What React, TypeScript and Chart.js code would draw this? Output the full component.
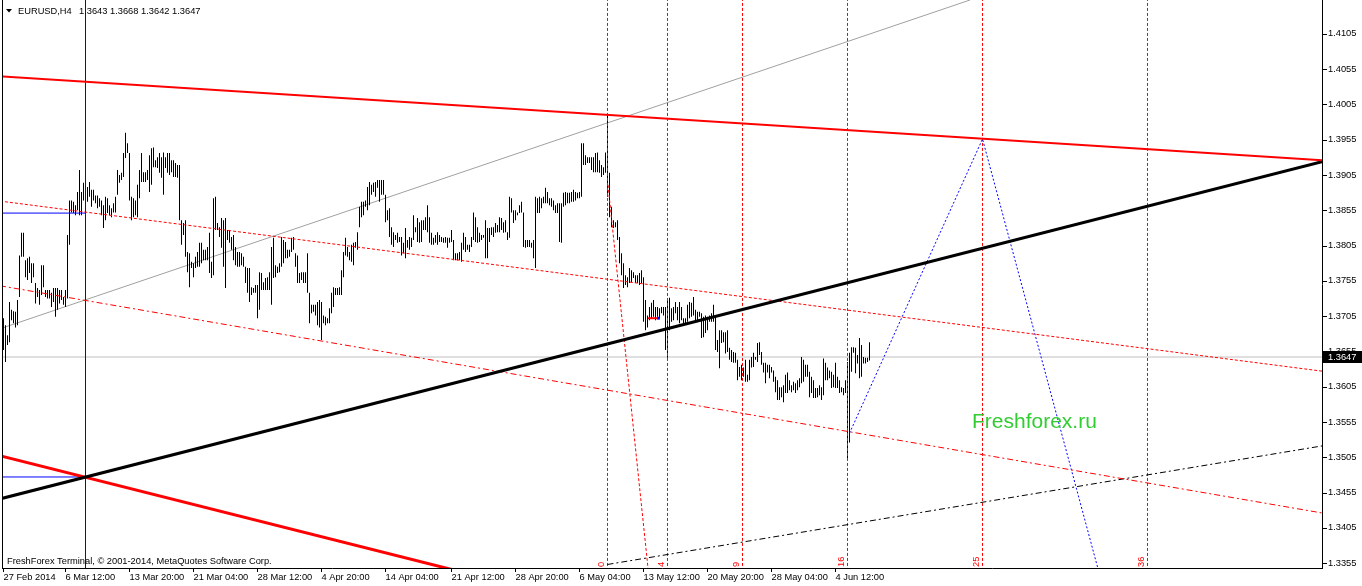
import React, { useEffect, useRef } from 'react';
import { Chart, registerables } from 'chart.js';

Chart.register(...registerables);

// ---- OHLC data (H4 bars, high / low) ----
const BAR_HIGH: number[] = [
  1.3702,1.3692,1.3678,1.3725,1.3714,1.3712,1.3711,1.3728,1.3791,1.3823,
  1.3823,1.3784,1.3787,1.3789,1.3780,1.3780,1.3752,1.3745,1.3742,1.3777,
  1.3777,1.3742,1.3742,1.3742,1.3738,1.3745,1.3745,1.3745,1.3742,1.3742,
  1.3732,1.3742,1.3820,1.3869,1.3869,1.3867,1.3862,1.3881,1.3912,1.3881,
  1.3894,1.3884,1.3888,1.3895,1.3884,1.3884,1.3876,1.3876,1.3872,1.3869,
  1.3862,1.3874,1.3872,1.3862,1.3858,1.3865,1.3874,1.3912,1.3905,1.3908,
  1.3936,1.3965,1.3950,1.3936,1.3874,1.3872,1.3869,1.3891,1.3912,1.3936,
  1.3909,1.3909,1.3912,1.3933,1.3943,1.3944,1.3926,1.3930,1.3936,1.3930,
  1.3937,1.3930,1.3936,1.3936,1.3926,1.3926,1.3922,1.3919,1.3919,1.3841,
  1.3837,1.3841,1.3796,1.3794,1.3782,1.3780,1.3789,1.3796,1.3809,
  1.3809,1.3799,1.3799,1.3803,1.3823,1.3782,1.3872,1.3874,1.3837,1.3831,
  1.3844,1.3841,1.3844,1.3827,1.3827,1.3817,1.3820,1.3803,1.3796,1.3796,
  1.3794,1.3789,1.3775,1.3773,1.3773,1.3746,1.3745,1.3749,1.3749,1.3767,
  1.3766,1.3753,1.3759,1.3760,1.3767,1.3803,1.3816,1.3777,1.3775,1.3780,
  1.3817,1.3813,1.3810,1.3799,1.3799,1.3816,1.3817,1.3794,1.3791,1.3766,
  1.3767,1.3767,1.3767,1.3794,1.3738,1.3721,1.3721,1.3721,1.3725,1.3728,
  1.3725,1.3706,1.3704,1.3702,1.3716,1.3738,1.3746,1.3745,1.3745,1.3746,
  1.3770,1.3796,1.3816,1.3803,1.3796,1.3806,1.3809,1.3810,1.3824,1.3860,
  1.3867,1.3867,1.3869,1.3888,1.3895,1.3891,1.3894,1.3895,1.3898,1.3898,
  1.3898,1.3898,1.3877,1.3855,1.3858,1.3831,1.3824,1.3820,1.3823,1.3817,
  1.3817,1.3809,1.3830,1.3813,1.3817,1.3816,1.3848,1.3831,1.3844,1.3838,
  1.3841,1.3841,1.3845,1.3862,1.3845,1.3823,1.3816,1.3820,1.3824,1.3820,
  1.3817,1.3816,1.3817,1.3816,1.3816,1.3827,1.3813,1.3794,1.3794,1.3796,
  1.3809,1.3823,1.3817,1.3806,1.3806,1.3817,1.3852,1.3845,1.3831,1.3823,
  1.3820,1.3820,1.3841,1.3830,1.3830,1.3831,1.3831,1.3837,1.3834,1.3845,
  1.3844,1.3838,1.3841,1.3824,1.3874,1.3872,1.3855,1.3855,1.3852,1.3862,
  1.3867,1.3852,1.3813,1.3813,1.3813,1.3809,1.3813,1.3874,1.3872,1.3874,
  1.3872,1.3874,1.3887,1.3881,1.3872,1.3872,1.3869,1.3862,1.3865,1.3865,
  1.3865,1.3880,1.3881,1.3880,1.3880,1.3881,1.3884,1.3881,1.3880,1.3881,
  1.3950,1.3950,1.3933,1.3930,1.3930,1.3930,1.3930,1.3936,1.3937,1.3926,
  1.3919,1.3916,1.3937,1.3993,1.3908,1.3860,1.3841,1.3838,1.3841,1.3817,
  1.3794,1.3780,1.3763,1.3760,1.3773,1.3770,1.3767,1.3763,1.3763,1.3766,
  1.3770,1.3760,1.3728,1.3706,1.3718,1.3724,1.3728,1.3718,1.3718,1.3716,
  1.3718,1.3718,1.3718,1.3728,1.3731,1.3716,1.3718,1.3725,1.3718,1.3725,
  1.3718,1.3702,1.3702,1.3721,1.3725,1.3724,1.3732,1.3714,1.3711,1.3711,
  1.3709,1.3704,1.3706,1.3704,1.3706,1.3709,1.3721,1.3704,1.3671,1.3685,
  1.3685,1.3682,1.3682,1.3685,1.3660,1.3657,1.3654,1.3653,1.3643,1.3633,
  1.3636,1.3632,1.3643,1.3622,1.3643,1.3647,1.3653,1.3647,1.3667,1.3668,
  1.3654,1.3639,1.3639,1.3636,1.3636,1.3633,1.3628,1.3619,1.3614,1.3604,
  1.3604,1.3607,1.3622,1.3625,1.3614,1.3607,1.3612,1.3610,1.3614,1.3617,
  1.3647,1.3643,1.3636,1.3636,1.3626,1.3619,1.3614,1.3603,1.3603,1.3607,
  1.3604,1.3645,1.3639,1.3632,1.3628,1.3626,1.3622,1.3639,1.3619,1.3614,
  1.3604,1.3603,1.3614,1.3640,1.3653,1.3661,1.3661,1.3660,1.3650,1.3674,
  1.3664,1.3647,1.3646,1.3646,1.3668,
];

const BAR_LOW: number[] = [
  1.3657,1.3640,1.3664,1.3668,1.3699,1.3695,1.3689,1.3692,1.3732,1.3789,
  1.3789,1.3760,1.3756,1.3766,1.3752,1.3760,1.3723,1.3732,1.3721,1.3735,
  1.3746,1.3732,1.3730,1.3730,1.3718,1.3725,1.3704,1.3714,1.3723,1.3728,
  1.3721,1.3718,1.3730,1.3806,1.3852,1.3851,1.3848,1.3855,1.3848,1.3848,
  1.3869,1.3874,1.3867,1.3874,1.3860,1.3869,1.3865,1.3858,1.3860,1.3848,
  1.3830,1.3841,1.3851,1.3848,1.3845,1.3852,1.3852,1.3877,1.3894,1.3898,
  1.3902,1.3929,1.3936,1.3869,1.3841,1.3845,1.3848,1.3845,1.3872,1.3895,
  1.3895,1.3895,1.3898,1.3881,1.3891,1.3916,1.3916,1.3915,1.3908,1.3901,
  1.3877,1.3915,1.3908,1.3905,1.3909,1.3902,1.3902,1.3901,1.3841,1.3806,
  1.3820,1.3789,1.3767,1.3746,1.3773,1.3760,1.3773,1.3775,1.3775,
  1.3780,1.3784,1.3784,1.3784,1.3766,1.3759,1.3763,1.3827,1.3827,1.3817,
  1.3802,1.3775,1.3745,1.3813,1.3809,1.3799,1.3784,1.3777,1.3775,1.3775,
  1.3777,1.3775,1.3752,1.3738,1.3725,1.3735,1.3738,1.3738,1.3702,1.3714,
  1.3742,1.3742,1.3742,1.3742,1.3742,1.3721,1.3759,1.3760,1.3766,1.3767,
  1.3775,1.3780,1.3787,1.3787,1.3789,1.3796,1.3799,1.3775,1.3752,1.3752,
  1.3756,1.3752,1.3752,1.3738,1.3695,1.3709,1.3711,1.3706,1.3692,1.3689,
  1.3671,1.3695,1.3692,1.3695,1.3695,1.3709,1.3718,1.3735,1.3735,1.3735,
  1.3735,1.3760,1.3791,1.3789,1.3784,1.3782,1.3777,1.3802,1.3799,1.3831,
  1.3845,1.3848,1.3860,1.3855,1.3862,1.3877,1.3881,1.3874,1.3887,1.3867,
  1.3877,1.3877,1.3838,1.3841,1.3817,1.3806,1.3803,1.3813,1.3809,1.3810,
  1.3791,1.3794,1.3787,1.3802,1.3799,1.3803,1.3813,1.3824,1.3810,1.3809,
  1.3810,1.3827,1.3827,1.3824,1.3809,1.3806,1.3806,1.3809,1.3806,1.3810,
  1.3810,1.3809,1.3809,1.3802,1.3809,1.3810,1.3784,1.3784,1.3784,1.3784,
  1.3782,1.3799,1.3796,1.3799,1.3796,1.3803,1.3813,1.3810,1.3809,1.3810,
  1.3813,1.3816,1.3787,1.3787,1.3810,1.3820,1.3817,1.3823,1.3824,1.3824,
  1.3827,1.3823,1.3824,1.3813,1.3816,1.3852,1.3837,1.3841,1.3848,1.3851,
  1.3852,1.3803,1.3802,1.3803,1.3803,1.3802,1.3787,1.3773,1.3851,1.3851,
  1.3858,1.3865,1.3865,1.3865,1.3862,1.3860,1.3855,1.3851,1.3851,1.3810,
  1.3809,1.3860,1.3862,1.3865,1.3865,1.3867,1.3867,1.3869,1.3872,1.3872,
  1.3874,1.3919,1.3919,1.3922,1.3922,1.3912,1.3909,1.3909,1.3909,1.3908,
  1.3902,1.3905,1.3908,1.3874,1.3845,1.3831,1.3830,1.3831,1.3813,1.3780,
  1.3763,1.3745,1.3749,1.3746,1.3752,1.3753,1.3759,1.3752,1.3752,1.3749,
  1.3752,1.3697,1.3685,1.3689,1.3699,1.3702,1.3704,1.3699,1.3704,1.3702,
  1.3709,1.3706,1.3657,1.3646,1.3685,1.3697,1.3699,1.3709,1.3699,1.3695,
  1.3699,1.3695,1.3695,1.3697,1.3702,1.3704,1.3706,1.3697,1.3699,1.3704,
  1.3674,1.3675,1.3681,1.3685,1.3697,1.3697,1.3697,1.3657,1.3654,1.3631,
  1.3667,1.3668,1.3652,1.3654,1.3643,1.3640,1.3639,1.3639,1.3614,1.3619,
  1.3614,1.3619,1.3612,1.3612,1.3614,1.3632,1.3633,1.3643,1.3640,1.3650,
  1.3636,1.3625,1.3610,1.3625,1.3617,1.3625,1.3612,1.3597,1.3586,1.3586,
  1.3590,1.3583,1.3596,1.3596,1.3600,1.3597,1.3600,1.3596,1.3600,1.3604,
  1.3610,1.3612,1.3619,1.3619,1.3590,1.3596,1.3589,1.3589,1.3590,1.3593,
  1.3586,1.3593,1.3614,1.3614,1.3617,1.3603,1.3604,1.3603,1.3603,1.3596,
  1.3597,1.3593,1.3596,1.3501,1.3526,1.3626,1.3653,1.3624,1.3638,1.3617,
  1.3619,1.3638,1.3638,1.3640,1.3642,
];

// ---- axes ----
const PRICE_TICKS = [1.3355,1.3405,1.3455,1.3505,1.3555,1.3605,1.3655,1.3705,1.3755,1.3805,1.3855,1.3905,1.3955,1.4005,1.4055,1.4105];
const Y_MIN = 1.3348;
const Y_MAX = 1.4153;
const X_MIN = -0.25;
const X_MAX = 659.25;
const DATE_TICK_BARS = [-0.25, 31, 63, 95, 127, 159, 191, 224, 256, 288, 320, 352, 384, 416];
const DATE_LABELS = ['27 Feb 2014','6 Mar 12:00','13 Mar 20:00','21 Mar 04:00','28 Mar 12:00','4 Apr 20:00','14 Apr 04:00','21 Apr 12:00','28 Apr 20:00','6 May 04:00','13 May 12:00','20 May 20:00','28 May 04:00','4 Jun 12:00'];

// ---- objects (bar index, price) ----
const RED_RESIST = [[-1.75, 1.4045], [659.25, 1.3926]];
const BLACK_TREND = [[-1.75, 1.3446], [659.25, 1.3924]];
const RED_THICK = [[-1.75, 1.3507], [298.25, 1.3293]];
const GRAY_CHANNEL = [[-1.75, 1.3687], [483.25, 1.4153]];
const RED_DOT_UPPER = [[-1.75, 1.3868], [659.25, 1.3627]];
const RED_DASHDOT_LOWER = [[-1.75, 1.3748], [659.25, 1.3426]];
const BLACK_DASHDOT = [[302, 1.3353], [659.25, 1.3521]];
const RED_DOT_DIAG = [[302.25, 1.3891], [322.25, 1.3348]];
const BLUE_ZIGZAG = [[423, 1.3539], [489.5, 1.3956], [551.5, 1.3302]];
const BLUE_HLINE_PRICES = [1.3851, 1.3477];
const BLUE_VLINE_BAR = 41;
const SMALL_MARK = [[322.25, 1.3702], [326.75, 1.3702]];
const SMALL_MARK_DOT = [327.5, 1.3702];
const FIB_ZONE_BARS = [302, 332, 369.5, 422, 489.5, 572];
const FIB_ZONE_LABELS = ['0', '4', '9', '16', '25', '36'];
const BID_PRICE = 1.3647;
const HEADER_OHLC = [1.3643, 1.3668, 1.3642, 1.3647];

const FONT = "'Liberation Sans', Arial, sans-serif";

function lineDs(pts: number[][], color: string, width: number, dash: number[], order: number) {
  return {
    type: 'line',
    data: pts.map(([x, y]) => ({ x, y })),
    borderColor: color,
    backgroundColor: color,
    borderWidth: width,
    borderDash: dash,
    pointRadius: 0,
    pointHoverRadius: 0,
    pointBorderWidth: 0,
    fill: false,
    tension: 0,
    clip: 0,
    order,
  };
}

export default function App() {
  const ref = useRef<HTMLCanvasElement>(null);

  useEffect(() => {
    document.body.style.margin = '0';
    const canvas = ref.current!;
    const n = Math.min(BAR_HIGH.length, BAR_LOW.length);
    const bars = [];
    for (let i = 0; i < n; i++) bars.push({ x: i, y: [BAR_LOW[i], BAR_HIGH[i]] });

    const datasets: any[] = [
      lineDs(RED_RESIST, '#ff0000', 2, [], 1),
      lineDs(BLACK_TREND, '#000000', 3, [], 2),
      lineDs(RED_THICK, '#ff0000', 3, [], 2),
      lineDs(RED_DOT_UPPER, '#ff0000', 1, [3, 2], 3),
      lineDs(RED_DASHDOT_LOWER, '#ff0000', 1, [6, 3, 2, 3], 3),
      lineDs(BLACK_DASHDOT, '#000000', 1, [6, 3, 2, 3], 3),
      lineDs(RED_DOT_DIAG, '#ff0000', 1, [3, 2], 3),
      lineDs(BLUE_ZIGZAG, '#0000ff', 1, [2, 2], 3),
      lineDs(SMALL_MARK, '#ff0000', 2, [], 1),
      ...BLUE_HLINE_PRICES.map((p) => lineDs([[-1.75, p], [BLUE_VLINE_BAR, p]], '#0000ff', 1, [], 4)),
      lineDs([[BLUE_VLINE_BAR, Y_MAX + 0.01], [BLUE_VLINE_BAR, Y_MIN - 0.01]], '#0000ff', 1, [], 4),
      ...FIB_ZONE_BARS.map((b) => lineDs([[b, Y_MAX + 0.001], [b, Y_MIN - 0.001]], '#ff0000', 1, [3, 2], 4)),
      {
        type: 'line',
        data: [{ x: SMALL_MARK_DOT[0], y: SMALL_MARK_DOT[1] }],
        showLine: false,
        pointRadius: 2,
        pointHoverRadius: 2,
        pointStyle: 'rect',
        pointBackgroundColor: '#0000ff',
        pointBorderWidth: 0,
        order: 0,
      },
      {
        type: 'bar',
        data: bars,
        backgroundColor: '#000000',
        borderWidth: 0,
        barThickness: 1,
        inflateAmount: 0,
        grouped: false,
        order: 50,
      },
      lineDs(GRAY_CHANNEL, '#a0a0a0', 1, [], 55),
      lineDs([[-1.75, BID_PRICE], [659.25, BID_PRICE]], '#c0c0c0', 1, [], 60),
    ];

    const overlay = {
      id: 'mt4overlay',
      afterDatasetsDraw(chart: any) {
        const ctx = chart.ctx as CanvasRenderingContext2D;
        const xs = chart.scales.x;
        const area = chart.chartArea;
        ctx.save();
        // left frame
        ctx.strokeStyle = '#000';
        ctx.lineWidth = 1;
        ctx.beginPath();
        ctx.moveTo(2.5, 0);
        ctx.lineTo(2.5, area.bottom);
        ctx.stroke();
        // fib time zone labels
        ctx.fillStyle = '#ff0000';
        ctx.font = `9.3px ${FONT}`;
        ctx.textAlign = 'left';
        ctx.textBaseline = 'alphabetic';
        FIB_ZONE_BARS.forEach((b, k) => {
          const px = xs.getPixelForValue(b);
          ctx.save();
          ctx.translate(px - 4, area.bottom - 1);
          ctx.rotate(-Math.PI / 2);
          ctx.fillText(FIB_ZONE_LABELS[k], 0, 0);
          ctx.restore();
        });
        // header
        ctx.fillStyle = '#000';
        ctx.beginPath();
        ctx.moveTo(6, 9);
        ctx.lineTo(12, 9);
        ctx.lineTo(9, 12.5);
        ctx.closePath();
        ctx.fill();
        ctx.font = `9.3px ${FONT}`;
        ctx.fillText('EURUSD,H4', 18, 14);
        ctx.fillText(HEADER_OHLC.map((v) => v.toFixed(4)).join(' '), 79, 14);
        // copyright
        ctx.fillText('FreshForex Terminal, \u00A9 2001-2014, MetaQuotes Software Corp.', 7, 564);
        // watermark
        ctx.fillStyle = '#32CD32';
        ctx.font = `21px ${FONT}`;
        ctx.fillText('Freshforex.ru', 972, 428);
        ctx.restore();
      },
      afterDraw(chart: any) {
        const ctx = chart.ctx as CanvasRenderingContext2D;
        const xs = chart.scales.x;
        const ys = chart.scales.y;
        const area = chart.chartArea;
        ctx.save();
        ctx.strokeStyle = '#000';
        ctx.fillStyle = '#000';
        ctx.lineWidth = 1;
        // axis lines
        ctx.beginPath();
        ctx.moveTo(area.right + 0.5, 0);
        ctx.lineTo(area.right + 0.5, area.bottom + 1);
        ctx.moveTo(2, area.bottom + 0.5);
        ctx.lineTo(area.right + 1, area.bottom + 0.5);
        ctx.stroke();
        // price ticks + labels
        ctx.font = `9.3px ${FONT}`;
        ctx.textAlign = 'left';
        ctx.textBaseline = 'middle';
        PRICE_TICKS.forEach((p) => {
          const py = ys.getPixelForValue(p);
          const ry = Math.round(py) + 0.5;
          ctx.beginPath();
          ctx.moveTo(area.right, ry);
          ctx.lineTo(area.right + 5, ry);
          ctx.stroke();
          ctx.fillText(p.toFixed(4), area.right + 6, py);
        });
        // date ticks + labels
        ctx.textBaseline = 'alphabetic';
        DATE_TICK_BARS.forEach((b, k) => {
          const px = Math.floor(xs.getPixelForValue(b)) + 0.5;
          ctx.beginPath();
          ctx.moveTo(px, area.bottom);
          ctx.lineTo(px, area.bottom + 4);
          ctx.stroke();
          ctx.fillText(DATE_LABELS[k], px, 580);
        });
        // bid price box
        const by = ys.getPixelForValue(BID_PRICE);
        ctx.fillStyle = '#000';
        ctx.fillRect(area.right + 1, Math.round(by) - 6, 40, 12);
        ctx.fillStyle = '#fff';
        ctx.textBaseline = 'middle';
        ctx.fillText(BID_PRICE.toFixed(4), area.right + 6, by);
        ctx.restore();
      },
    };

    const chart = new Chart(canvas, {
      type: 'bar',
      data: { datasets },
      options: {
        responsive: false,
        animation: false,
        devicePixelRatio: 1,
        events: [],
        layout: { autoPadding: false, padding: { left: 3, top: 0, right: 40, bottom: 18 } },
        plugins: { legend: { display: false }, tooltip: { enabled: false }, title: { display: false } },
        scales: {
          x: { type: 'linear', display: false, min: X_MIN, max: X_MAX, offset: false, grid: { offset: false } },
          y: { type: 'linear', display: false, min: Y_MIN, max: Y_MAX },
        },
      } as any,
      plugins: [overlay],
    } as any);

    return () => chart.destroy();
  }, []);

  return <canvas ref={ref} width={1362} height={586} style={{ display: 'block' }} />;
}
